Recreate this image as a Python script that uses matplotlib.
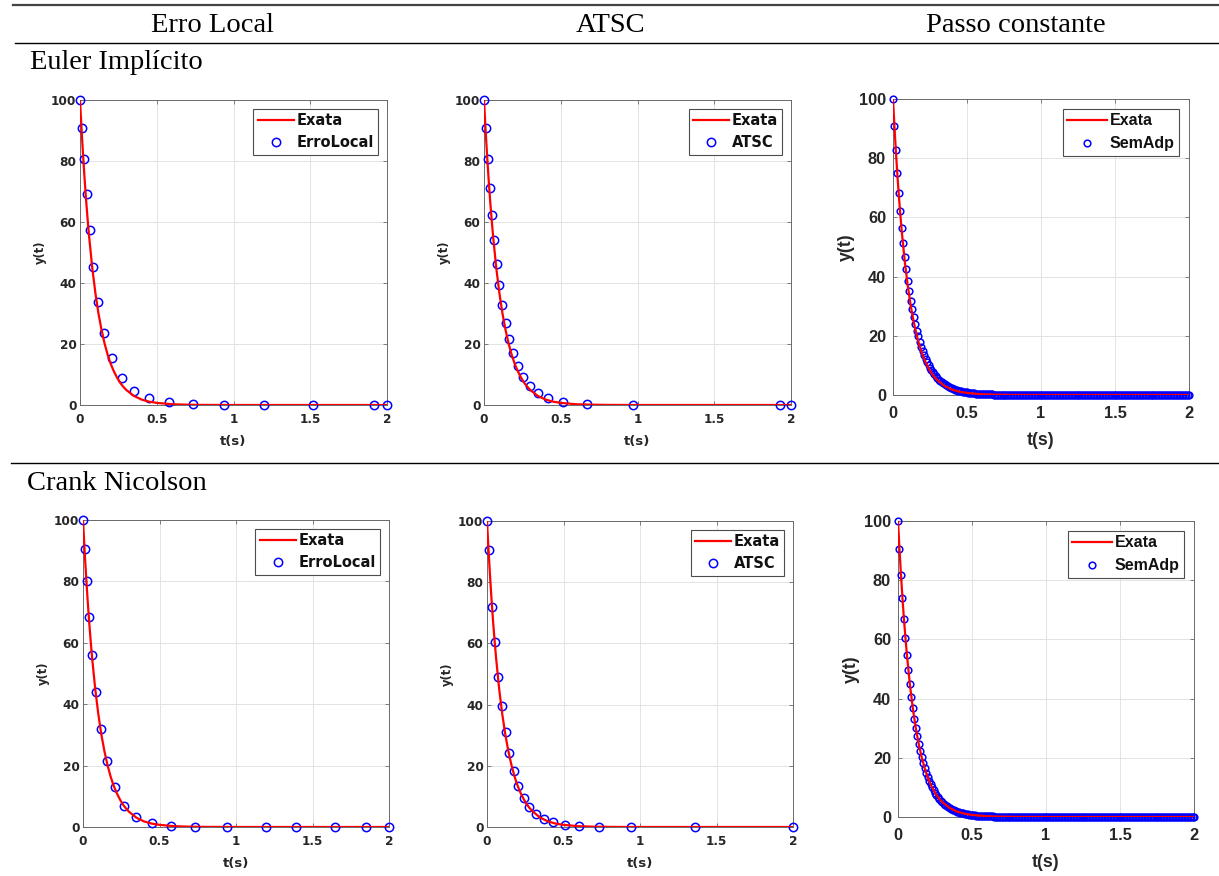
import numpy as np
import matplotlib
matplotlib.use("Agg")
import matplotlib.pyplot as plt
from matplotlib.lines import Line2D

# ---Data---
# exact solution (red line)
t_exact = [0, 0.01, 0.02, 0.03, 0.04, 0.05, 0.06, 0.08, 0.10, 0.12, 0.14, 0.16,
           0.18, 0.20, 0.22, 0.24, 0.26, 0.28, 0.30, 0.35, 0.40, 0.45, 0.50,
           0.60, 0.70, 0.80, 1.00, 2.00]
y_exact = [100, 90.5, 81.9, 74.1, 67.0, 60.7, 54.9, 44.9, 36.8, 30.1, 24.7, 20.2,
           16.5, 13.5, 11.1, 9.1, 7.4, 6.1, 5.0, 3.0, 1.8, 1.1, 0.7,
           0.25, 0.1, 0.03, 0.0, 0.0]

# Euler implicito - erro local
t_ei_el = [0, 0.011, 0.026, 0.044, 0.063, 0.085, 0.115, 0.159, 0.207, 0.272,
           0.351, 0.451, 0.580, 0.736, 0.941, 1.196, 1.516, 1.917, 2.0]
y_ei_el = [100, 90.8, 80.5, 69.2, 57.4, 45.4, 33.9, 23.7, 15.3, 8.8,
           4.7, 2.2, 0.9, 0.2, 0.1, 0.0, 0.0, 0.0, 0.0]

# Euler implicito - ATSC
t_ei_atsc = [0, 0.013, 0.026, 0.039, 0.052, 0.068, 0.083, 0.100, 0.120, 0.141,
             0.165, 0.191, 0.222, 0.257, 0.298, 0.350, 0.420, 0.517, 0.670,
             0.972, 1.930, 2.0]
y_ei_atsc = [100, 90.8, 80.7, 71.2, 62.4, 54.1, 46.3, 39.3, 32.8, 26.9,
             21.6, 16.9, 12.8, 9.3, 6.3, 4.0, 2.2, 1.1, 0.3,
             0.1, 0.0, 0.0]

# Euler implicito - passo constante (h = 0.01)
h_const = 0.01
y_ei_const = [
    100.0, 90.91, 82.64, 75.13, 68.30, 62.09, 56.45, 51.32, 46.65, 42.41,
    38.55, 35.05, 31.86, 28.97, 26.33, 23.94, 21.76, 19.78, 17.99, 16.35,
    14.86, 13.51, 12.28, 11.17, 10.15, 9.23, 8.39, 7.63, 6.93, 6.30,
    5.73, 5.21, 4.74, 4.31, 3.91, 3.56, 3.24, 2.94, 2.67, 2.43,
    2.21, 2.01, 1.83, 1.66, 1.51, 1.37, 1.25, 1.14, 1.03, 0.94,
    0.85, 0.78, 0.71, 0.64, 0.58, 0.53, 0.48, 0.44, 0.40, 0.36,
    0.33, 0.30, 0.27, 0.25, 0.22, 0.20, 0.19, 0.17, 0.15, 0.14,
    0.13, 0.11, 0.10, 0.09, 0.08, 0.08, 0.07, 0.06, 0.06, 0.05,
    0, 0, 0, 0, 0, 0, 0, 0, 0, 0, 0, 0, 0, 0, 0, 0, 0, 0, 0, 0,
    0, 0, 0, 0, 0, 0, 0, 0, 0, 0, 0, 0, 0, 0, 0, 0, 0, 0, 0, 0,
    0, 0, 0, 0, 0, 0, 0, 0, 0, 0, 0, 0, 0, 0, 0, 0, 0, 0, 0, 0,
    0, 0, 0, 0, 0, 0, 0, 0, 0, 0, 0, 0, 0, 0, 0, 0, 0, 0, 0, 0,
    0, 0, 0, 0, 0, 0, 0, 0, 0, 0, 0, 0, 0, 0, 0, 0, 0, 0, 0, 0,
    0, 0, 0, 0, 0, 0, 0, 0, 0, 0, 0, 0, 0, 0, 0, 0, 0, 0, 0, 0,
    0]

# Crank Nicolson - erro local
t_cn_el = [0, 0.013, 0.024, 0.039, 0.059, 0.085, 0.116, 0.155, 0.207, 0.268,
           0.349, 0.449, 0.578, 0.735, 0.940, 1.193, 1.394, 1.647, 1.850, 2.0]
y_cn_el = [100, 90.6, 80.0, 68.3, 56.1, 43.9, 32.0, 21.5, 13.1, 7.0,
           3.2, 1.2, 0.3, 0.0, 0.0, 0.0, 0.0, 0.0, 0.0, 0.0]

# Crank Nicolson - ATSC
t_cn_atsc = [0, 0.013, 0.035, 0.054, 0.074, 0.096, 0.122, 0.146, 0.174, 0.205,
             0.240, 0.277, 0.322, 0.373, 0.434, 0.508, 0.603, 0.734, 0.943,
             1.357, 2.0]
y_cn_atsc = [100, 90.6, 71.8, 60.6, 48.9, 39.5, 31.0, 24.1, 18.3, 13.4,
             9.5, 6.4, 4.3, 2.6, 1.5, 0.7, 0.2, 0.0, 0.0,
             0.0, 0.0]

# Crank Nicolson - passo constante (h = 0.01)
y_cn_const = [
    100.0, 90.48, 81.86, 74.06, 67.01, 60.63, 54.85, 49.63, 44.90, 40.63,
    36.76, 33.26, 30.09, 27.22, 24.63, 22.29, 20.16, 18.24, 16.51, 14.93,
    13.51, 12.22, 11.06, 10.01, 9.05, 8.19, 7.41, 6.71, 6.07, 5.49,
    4.97, 4.49, 4.07, 3.68, 3.33, 3.01, 2.72, 2.46, 2.23, 2.02,
    1.83, 1.65, 1.49, 1.35, 1.22, 1.11, 1.00, 0.91, 0.82, 0.74,
    0.67, 0.61, 0.55, 0.50, 0.45, 0.41, 0.37, 0.33, 0.30, 0.27,
    0.25, 0.22, 0.20, 0.18, 0.17, 0.15, 0.14, 0.12, 0.11, 0.10,
    0.09, 0.08, 0.07, 0.07, 0.06, 0.06, 0.05, 0.05, 0.04, 0.04,
    0, 0, 0, 0, 0, 0, 0, 0, 0, 0, 0, 0, 0, 0, 0, 0, 0, 0, 0, 0,
    0, 0, 0, 0, 0, 0, 0, 0, 0, 0, 0, 0, 0, 0, 0, 0, 0, 0, 0, 0,
    0, 0, 0, 0, 0, 0, 0, 0, 0, 0, 0, 0, 0, 0, 0, 0, 0, 0, 0, 0,
    0, 0, 0, 0, 0, 0, 0, 0, 0, 0, 0, 0, 0, 0, 0, 0, 0, 0, 0, 0,
    0, 0, 0, 0, 0, 0, 0, 0, 0, 0, 0, 0, 0, 0, 0, 0, 0, 0, 0, 0,
    0, 0, 0, 0, 0, 0, 0, 0, 0, 0, 0, 0, 0, 0, 0, 0, 0, 0, 0, 0,
    0]

t_ei_const = np.arange(len(y_ei_const)) * h_const
t_cn_const = np.arange(len(y_cn_const)) * h_const

col_titles = ['Erro Local', 'ATSC', 'Passo constante']
row_titles = ['Euler Implícito', 'Crank Nicolson']
x_ticks = [0, 0.5, 1, 1.5, 2]
x_ticklabels = ['0', '0.5', '1', '1.5', '2']
y_ticks = [0, 20, 40, 60, 80, 100]

W, H = 1219, 876
fig = plt.figure(figsize=(W / 100, H / 100), dpi=100)


def px_axes(l, r, t, b):
    return fig.add_axes([l / W, 1 - b / H, (r - l) / W, (b - t) / H])


def panel(ax, t, y, label, big=False):
    # the two left columns look horizontally stretched: a wider font fits them best
    fam = 'Liberation Sans' if big else 'DejaVu Sans'
    tick_fs = 11.8 if big else 8.7
    xlab_fs = 12.8 if big else 9.5
    ylab_fs = 12.8 if big else 8.3
    leg_fs = 11.5 if big else 10.5
    ms = 4.8 if big else 6.0

    ax.plot(t, y, 'o', ms=ms, mfc='none', mec='blue', mew=1.1,
            clip_on=False, zorder=3)
    ax.plot(t_exact, y_exact, '-', color='red', lw=1.6, zorder=4)

    ax.set_xlim(0, 2)
    ax.set_ylim(0, 100)
    ax.set_xticks(x_ticks)
    ax.set_xticklabels(x_ticklabels)
    ax.set_yticks(y_ticks)
    ax.grid(True, color='#e3e3e3', lw=0.7)
    ax.set_axisbelow(True)
    for s in ax.spines.values():
        s.set_color('#6a6a6a')
        s.set_linewidth(0.7)
    ax.tick_params(direction='in', length=3, width=0.6, color='#6a6a6a',
                   top=True, right=True, labelcolor='#262626',
                   labelsize=tick_fs)
    ax.tick_params(axis='x', pad=8 if big else 6)
    ax.tick_params(axis='y', pad=5 if big else 2.5)
    for lb in ax.get_xticklabels() + ax.get_yticklabels():
        lb.set_fontweight('bold')
        lb.set_family(fam)
    ax.set_xlabel('t(s)', fontsize=xlab_fs, fontweight='bold', color='#262626',
                  family=fam, labelpad=8 if big else 6)
    ax.set_ylabel('y(t)', fontsize=ylab_fs, fontweight='bold', color='#262626',
                  family=fam, labelpad=3 if big else 3)

    handles = [Line2D([], [], color='red', lw=1.6),
               Line2D([], [], ls='none', marker='o', ms=ms, mfc='none',
                      mec='blue', mew=1.1)]
    leg = ax.legend(handles, ['Exata', label], loc='upper right',
                    prop={'family': fam, 'weight': 'bold', 'size': leg_fs},
                    fancybox=False, framealpha=1, edgecolor='#4d4d4d',
                    borderaxespad=0.6, borderpad=0.3, labelspacing=0.5,
                    handlelength=2.5, handletextpad=0.15)
    leg.get_frame().set_linewidth(0.8)
    for tx in leg.get_texts():
        tx.set_color('#111111')


# axes positions in pixels (left, right, top, bottom)
ax1 = px_axes(80, 387, 100, 405)
ax2 = px_axes(484, 791, 100, 405)
ax3 = px_axes(893, 1189, 99, 395)
ax4 = px_axes(83, 389, 520, 827)
ax5 = px_axes(487, 793, 521, 827)
ax6 = px_axes(898, 1194, 521, 817)

panel(ax1, t_ei_el, y_ei_el, 'ErroLocal')
panel(ax2, t_ei_atsc, y_ei_atsc, 'ATSC')
panel(ax3, t_ei_const, y_ei_const, 'SemAdp', big=True)
panel(ax4, t_cn_el, y_cn_el, 'ErroLocal')
panel(ax5, t_cn_atsc, y_cn_atsc, 'ATSC')
panel(ax6, t_cn_const, y_cn_const, 'SemAdp', big=True)

# table lines and headers
serif = 'Liberation Serif'
fig.add_artist(Line2D([13 / W, 1], [1 - 5 / H, 1 - 5 / H], color='#444444', lw=1.6))
fig.add_artist(Line2D([15 / W, 1], [1 - 43 / H, 1 - 43 / H], color='black', lw=1.0))
fig.add_artist(Line2D([11 / W, 1], [1 - 463 / H, 1 - 463 / H], color='black', lw=1.0))

for x, txt in zip([212, 611, 1016], col_titles):
    fig.text(x / W, 1 - 32 / H, txt, ha='center', va='baseline',
             family=serif, fontsize=20.5)
fig.text(30 / W, 1 - 69 / H, row_titles[0], ha='left', va='baseline',
         family=serif, fontsize=20.5)
fig.text(27 / W, 1 - 490 / H, row_titles[1], ha='left', va='baseline',
         family=serif, fontsize=20.5)

fig.savefig('out.png', dpi=100)
